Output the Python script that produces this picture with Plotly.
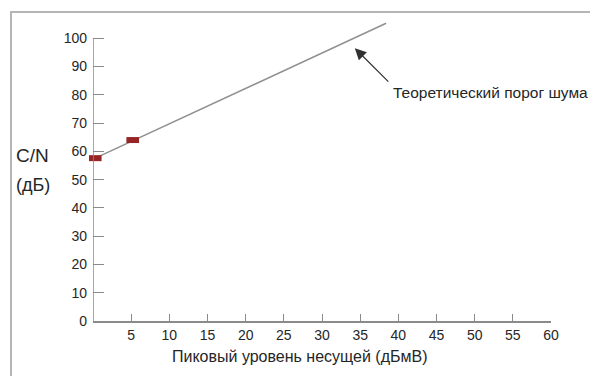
import plotly.graph_objects as go

# Data
line_x = [0.3, 38.4]          # theoretical noise floor line (dBmV)
line_y = [57.6, 105.3]        # C/N (dB)
meas_x = [0.3, 5.2]           # measured points
meas_y = [57.6, 64.0]
y_ticks = [0, 10, 20, 30, 40, 50, 60, 70, 80, 90, 100]
x_ticks = [5, 10, 15, 20, 25, 30, 35, 40, 45, 50, 55, 60]
note_text = "Теоретический порог шума"
note_point = (34.3, 96.5)

W, H = 590, 376
L, R, T, B = 93, 39, 10, 55
pw, ph = W - L - R, H - T - B

def px_x(p):
    return (p - L) / pw

def px_y(p):
    return (H - B - p) / ph

font = "Liberation Sans, Arial, sans-serif"
txt = "#262626"
axc = "#8a8a8a"

fig = go.Figure()
fig.add_trace(go.Scatter(x=line_x, y=line_y, mode="lines",
                         line=dict(color="#909090", width=1.5),
                         hoverinfo="skip", cliponaxis=False))
fig.add_trace(go.Scatter(x=meas_x, y=meas_y, mode="markers",
                         marker=dict(symbol="line-ew", size=9,
                                     line=dict(color="#962626", width=6)),
                         cliponaxis=False))

fig.update_layout(
    width=W, height=H, showlegend=False,
    margin=dict(l=L, r=R, t=T, b=B),
    paper_bgcolor="white", plot_bgcolor="white",
    font=dict(family=font, color=txt, size=14),
    xaxis=dict(range=[0, 60], tickvals=x_ticks, ticktext=[str(v) for v in x_ticks],
               ticks="inside", ticklen=7, tickcolor=axc, tickwidth=1.2,
               showline=True, linecolor=axc, linewidth=1.5,
               showgrid=False, zeroline=False,
               tickfont=dict(size=14, color=txt)),
    yaxis=dict(range=[0, 110], tickvals=y_ticks, ticktext=[str(v) for v in y_ticks],
               ticks="inside", ticklen=11, tickcolor=axc, tickwidth=1.2,
               showline=False, showgrid=False, zeroline=False,
               ticklabelstandoff=5,
               tickfont=dict(size=14, color=txt)),
)

# y axis line from 0 to 100
fig.add_shape(type="line", xref="x", yref="y", x0=0, x1=0, y0=0, y1=y_ticks[-1],
              line=dict(color=axc, width=1.5))

# outer frame (cropped by the picture edges)
fig.add_shape(type="rect", xref="paper", yref="paper",
              x0=px_x(11), x1=px_x(620), y0=px_y(12), y1=px_y(420),
              line=dict(color="#b5b5b5", width=2), fillcolor="rgba(0,0,0,0)",
              layer="below")

# axis titles
fig.add_annotation(xref="paper", yref="paper", x=px_x(32), y=px_y(155),
                   xanchor="center", yanchor="middle",
                   text="C/N", showarrow=False, font=dict(size=19, color=txt))
fig.add_annotation(xref="paper", yref="paper", x=px_x(33), y=px_y(185),
                   xanchor="center", yanchor="middle",
                   text="(дБ)", showarrow=False, font=dict(size=18, color=txt))
fig.add_annotation(xref="paper", yref="paper", x=px_x(300), y=px_y(356),
                   xanchor="center", yanchor="middle",
                   text="Пиковый уровень несущей (дБмВ)", showarrow=False,
                   font=dict(size=16, color=txt))

# arrow + label
fig.add_annotation(x=note_point[0], y=note_point[1], xref="x", yref="y",
                   text="", showarrow=True, ax=35, ay=35,
                   arrowhead=2, arrowsize=1.9, arrowwidth=1.2, arrowcolor="#303030")
fig.add_annotation(xref="paper", yref="paper", x=px_x(391), y=px_y(92),
                   xanchor="left", yanchor="middle", text=note_text, showarrow=False,
                   font=dict(size=15.5, color=txt))

fig.write_html("out.html")
